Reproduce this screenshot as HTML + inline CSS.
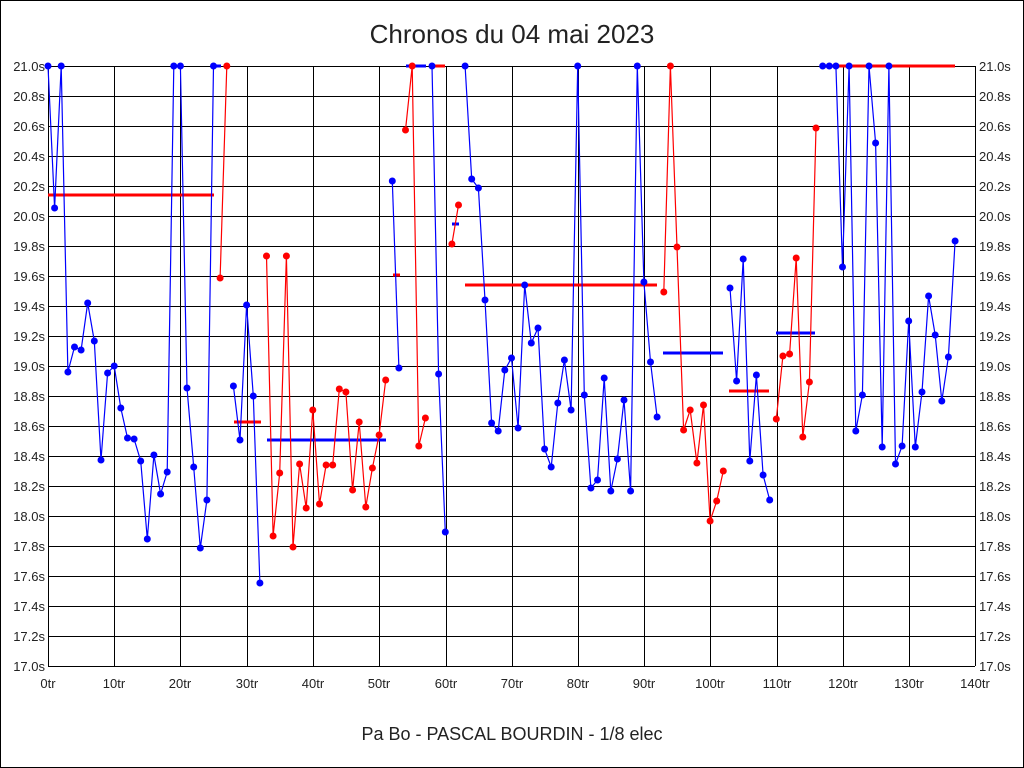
<!DOCTYPE html>
<html><head><meta charset="utf-8"><style>
html,body{margin:0;padding:0;background:#fff}
svg{display:block}
text{font-family:"Liberation Sans",sans-serif;fill:#222}
</style></head><body>
<svg width="1024" height="768" xmlns="http://www.w3.org/2000/svg">
<rect x="0.5" y="0.5" width="1023" height="767" fill="#fff" stroke="#000"/>
<text x="512" y="43" font-size="26" text-anchor="middle" fill="#000">Chronos du 04 mai 2023</text>
<text x="512" y="740" font-size="18" text-anchor="middle" fill="#000">Pa Bo - PASCAL BOURDIN - 1/8 elec</text>
<g stroke="#000" stroke-width="1">
<path d="M48 66.5H975M48 96.5H975M48 126.5H975M48 156.5H975M48 186.5H975M48 216.5H975M48 246.5H975M48 276.5H975M48 306.5H975M48 336.5H975M48 366.5H975M48 396.5H975M48 426.5H975M48 456.5H975M48 486.5H975M48 516.5H975M48 546.5H975M48 576.5H975M48 606.5H975M48 636.5H975M48 666.5H975"/>
<path d="M48.5 66V666M114.5 66V666M180.5 66V666M247.5 66V666M313.5 66V666M379.5 66V666M446.5 66V666M512.5 66V666M578.5 66V666M644.5 66V666M710.5 66V666M777.5 66V666M843.5 66V666M909.5 66V666M975.5 66V666"/>
</g>
<g font-size="13" text-anchor="end">
<text x="45" y="71">21.0s</text><text x="45" y="101">20.8s</text><text x="45" y="131">20.6s</text><text x="45" y="161">20.4s</text><text x="45" y="191">20.2s</text><text x="45" y="221">20.0s</text><text x="45" y="251">19.8s</text><text x="45" y="281">19.6s</text><text x="45" y="311">19.4s</text><text x="45" y="341">19.2s</text><text x="45" y="371">19.0s</text><text x="45" y="401">18.8s</text><text x="45" y="431">18.6s</text><text x="45" y="461">18.4s</text><text x="45" y="491">18.2s</text><text x="45" y="521">18.0s</text><text x="45" y="551">17.8s</text><text x="45" y="581">17.6s</text><text x="45" y="611">17.4s</text><text x="45" y="641">17.2s</text><text x="45" y="671">17.0s</text>
</g>
<g font-size="13" text-anchor="start">
<text x="979" y="71">21.0s</text><text x="979" y="101">20.8s</text><text x="979" y="131">20.6s</text><text x="979" y="161">20.4s</text><text x="979" y="191">20.2s</text><text x="979" y="221">20.0s</text><text x="979" y="251">19.8s</text><text x="979" y="281">19.6s</text><text x="979" y="311">19.4s</text><text x="979" y="341">19.2s</text><text x="979" y="371">19.0s</text><text x="979" y="401">18.8s</text><text x="979" y="431">18.6s</text><text x="979" y="461">18.4s</text><text x="979" y="491">18.2s</text><text x="979" y="521">18.0s</text><text x="979" y="551">17.8s</text><text x="979" y="581">17.6s</text><text x="979" y="611">17.4s</text><text x="979" y="641">17.2s</text><text x="979" y="671">17.0s</text>
</g>
<g font-size="13" text-anchor="middle">
<text x="48" y="688">0tr</text><text x="114" y="688">10tr</text><text x="180" y="688">20tr</text><text x="247" y="688">30tr</text><text x="313" y="688">40tr</text><text x="379" y="688">50tr</text><text x="446" y="688">60tr</text><text x="512" y="688">70tr</text><text x="578" y="688">80tr</text><text x="644" y="688">90tr</text><text x="710" y="688">100tr</text><text x="777" y="688">110tr</text><text x="843" y="688">120tr</text><text x="909" y="688">130tr</text><text x="975" y="688">140tr</text>
</g>
<!-- mean lines -->
<g stroke-width="3">
<path stroke="#f00" d="M48 195H214M234 422H261M465 285H657M729 391H769M822 66H955M432 66H445M393 275H400"/>
<path stroke="#00f" d="M267 440H386M663 353H723M776 333H815M406 66H426M214 66H221M452 224H459"/>
</g>
<g fill="none" stroke-width="1.2">
<polyline stroke="#00f" points="48,66 54.6,208 61.2,66 67.9,372 74.5,347 81.1,350 87.7,303 94.3,341 101,460 107.6,373 114.2,366 120.8,408 127.5,438 134.1,439 140.7,461 147.3,539 153.9,455 160.6,494 167.2,472 173.8,66 180.4,66 187,388 193.7,467 200.3,548 206.9,500 213.5,66"/>
<polyline stroke="#f00" points="220.1,278 226.8,66"/>
<polyline stroke="#00f" points="233.4,386 240,440 246.6,305 253.3,396 259.9,583"/>
<polyline stroke="#f00" points="266.5,256 273.1,536 279.7,473 286.4,256 293,547 299.6,464 306.2,508 312.8,410 319.5,504 326.1,465 332.7,465 339.3,389 345.9,392 352.6,490 359.2,422 365.8,507 372.4,468 379.1,435 385.7,380"/>
<polyline stroke="#00f" points="392.3,181 398.9,368"/>
<polyline stroke="#f00" points="405.5,130 412.2,66 418.8,446 425.4,418"/>
<polyline stroke="#00f" points="432,66 438.6,374 445.3,532"/>
<polyline stroke="#f00" points="451.9,244 458.5,205"/>
<polyline stroke="#00f" points="465.1,66 471.7,179 478.4,188 485,300 491.6,423 498.2,431 504.8,370 511.5,358 518.1,428 524.7,285 531.3,343 538,328 544.6,449 551.2,467 557.8,403 564.4,360 571.1,410 577.7,66 584.3,395 590.9,488 597.5,480 604.2,378 610.8,491 617.4,459 624,400 630.6,491 637.3,66 643.9,282 650.5,362 657.1,417"/>
<polyline stroke="#f00" points="663.8,292 670.4,66 677,247 683.6,430 690.2,410 696.9,463 703.5,405 710.1,521 716.7,501 723.3,471"/>
<polyline stroke="#00f" points="730,288 736.6,381 743.2,259 749.8,461 756.4,375 763.1,475 769.7,500"/>
<polyline stroke="#f00" points="776.3,419 782.9,356 789.6,354 796.2,258 802.8,437 809.4,382 816,128"/>
<polyline stroke="#00f" points="822.7,66 829.3,66 835.9,66 842.5,267 849.1,66 855.8,431 862.4,395 869,66 875.6,143 882.2,447 888.9,66 895.5,464 902.1,446 908.7,321 915.3,447 922,392 928.6,296 935.2,335 941.8,401 948.4,357 955.1,241"/>
</g>
<g fill="#00f">
<circle cx="48" cy="66" r="3.5"/><circle cx="54.6" cy="208" r="3.5"/><circle cx="61.2" cy="66" r="3.5"/><circle cx="67.9" cy="372" r="3.5"/><circle cx="74.5" cy="347" r="3.5"/><circle cx="81.1" cy="350" r="3.5"/><circle cx="87.7" cy="303" r="3.5"/><circle cx="94.3" cy="341" r="3.5"/><circle cx="101" cy="460" r="3.5"/><circle cx="107.6" cy="373" r="3.5"/><circle cx="114.2" cy="366" r="3.5"/><circle cx="120.8" cy="408" r="3.5"/><circle cx="127.5" cy="438" r="3.5"/><circle cx="134.1" cy="439" r="3.5"/><circle cx="140.7" cy="461" r="3.5"/><circle cx="147.3" cy="539" r="3.5"/><circle cx="153.9" cy="455" r="3.5"/><circle cx="160.6" cy="494" r="3.5"/><circle cx="167.2" cy="472" r="3.5"/><circle cx="173.8" cy="66" r="3.5"/><circle cx="180.4" cy="66" r="3.5"/><circle cx="187" cy="388" r="3.5"/><circle cx="193.7" cy="467" r="3.5"/><circle cx="200.3" cy="548" r="3.5"/><circle cx="206.9" cy="500" r="3.5"/><circle cx="213.5" cy="66" r="3.5"/>
<circle cx="233.4" cy="386" r="3.5"/><circle cx="240" cy="440" r="3.5"/><circle cx="246.6" cy="305" r="3.5"/><circle cx="253.3" cy="396" r="3.5"/><circle cx="259.9" cy="583" r="3.5"/>
<circle cx="392.3" cy="181" r="3.5"/><circle cx="398.9" cy="368" r="3.5"/>
<circle cx="432" cy="66" r="3.5"/><circle cx="438.6" cy="374" r="3.5"/><circle cx="445.3" cy="532" r="3.5"/>
<circle cx="465.1" cy="66" r="3.5"/><circle cx="471.7" cy="179" r="3.5"/><circle cx="478.4" cy="188" r="3.5"/><circle cx="485" cy="300" r="3.5"/><circle cx="491.6" cy="423" r="3.5"/><circle cx="498.2" cy="431" r="3.5"/><circle cx="504.8" cy="370" r="3.5"/><circle cx="511.5" cy="358" r="3.5"/><circle cx="518.1" cy="428" r="3.5"/><circle cx="524.7" cy="285" r="3.5"/><circle cx="531.3" cy="343" r="3.5"/><circle cx="538" cy="328" r="3.5"/><circle cx="544.6" cy="449" r="3.5"/><circle cx="551.2" cy="467" r="3.5"/><circle cx="557.8" cy="403" r="3.5"/><circle cx="564.4" cy="360" r="3.5"/><circle cx="571.1" cy="410" r="3.5"/><circle cx="577.7" cy="66" r="3.5"/><circle cx="584.3" cy="395" r="3.5"/><circle cx="590.9" cy="488" r="3.5"/><circle cx="597.5" cy="480" r="3.5"/><circle cx="604.2" cy="378" r="3.5"/><circle cx="610.8" cy="491" r="3.5"/><circle cx="617.4" cy="459" r="3.5"/><circle cx="624" cy="400" r="3.5"/><circle cx="630.6" cy="491" r="3.5"/><circle cx="637.3" cy="66" r="3.5"/><circle cx="643.9" cy="282" r="3.5"/><circle cx="650.5" cy="362" r="3.5"/><circle cx="657.1" cy="417" r="3.5"/>
<circle cx="730" cy="288" r="3.5"/><circle cx="736.6" cy="381" r="3.5"/><circle cx="743.2" cy="259" r="3.5"/><circle cx="749.8" cy="461" r="3.5"/><circle cx="756.4" cy="375" r="3.5"/><circle cx="763.1" cy="475" r="3.5"/><circle cx="769.7" cy="500" r="3.5"/>
<circle cx="822.7" cy="66" r="3.5"/><circle cx="829.3" cy="66" r="3.5"/><circle cx="835.9" cy="66" r="3.5"/><circle cx="842.5" cy="267" r="3.5"/><circle cx="849.1" cy="66" r="3.5"/><circle cx="855.8" cy="431" r="3.5"/><circle cx="862.4" cy="395" r="3.5"/><circle cx="869" cy="66" r="3.5"/><circle cx="875.6" cy="143" r="3.5"/><circle cx="882.2" cy="447" r="3.5"/><circle cx="888.9" cy="66" r="3.5"/><circle cx="895.5" cy="464" r="3.5"/><circle cx="902.1" cy="446" r="3.5"/><circle cx="908.7" cy="321" r="3.5"/><circle cx="915.3" cy="447" r="3.5"/><circle cx="922" cy="392" r="3.5"/><circle cx="928.6" cy="296" r="3.5"/><circle cx="935.2" cy="335" r="3.5"/><circle cx="941.8" cy="401" r="3.5"/><circle cx="948.4" cy="357" r="3.5"/><circle cx="955.1" cy="241" r="3.5"/>
</g>
<g fill="#f00">
<circle cx="220.1" cy="278" r="3.5"/><circle cx="226.8" cy="66" r="3.5"/>
<circle cx="266.5" cy="256" r="3.5"/><circle cx="273.1" cy="536" r="3.5"/><circle cx="279.7" cy="473" r="3.5"/><circle cx="286.4" cy="256" r="3.5"/><circle cx="293" cy="547" r="3.5"/><circle cx="299.6" cy="464" r="3.5"/><circle cx="306.2" cy="508" r="3.5"/><circle cx="312.8" cy="410" r="3.5"/><circle cx="319.5" cy="504" r="3.5"/><circle cx="326.1" cy="465" r="3.5"/><circle cx="332.7" cy="465" r="3.5"/><circle cx="339.3" cy="389" r="3.5"/><circle cx="345.9" cy="392" r="3.5"/><circle cx="352.6" cy="490" r="3.5"/><circle cx="359.2" cy="422" r="3.5"/><circle cx="365.8" cy="507" r="3.5"/><circle cx="372.4" cy="468" r="3.5"/><circle cx="379.1" cy="435" r="3.5"/><circle cx="385.7" cy="380" r="3.5"/>
<circle cx="405.5" cy="130" r="3.5"/><circle cx="412.2" cy="66" r="3.5"/><circle cx="418.8" cy="446" r="3.5"/><circle cx="425.4" cy="418" r="3.5"/>
<circle cx="451.9" cy="244" r="3.5"/><circle cx="458.5" cy="205" r="3.5"/>
<circle cx="663.8" cy="292" r="3.5"/><circle cx="670.4" cy="66" r="3.5"/><circle cx="677" cy="247" r="3.5"/><circle cx="683.6" cy="430" r="3.5"/><circle cx="690.2" cy="410" r="3.5"/><circle cx="696.9" cy="463" r="3.5"/><circle cx="703.5" cy="405" r="3.5"/><circle cx="710.1" cy="521" r="3.5"/><circle cx="716.7" cy="501" r="3.5"/><circle cx="723.3" cy="471" r="3.5"/>
<circle cx="776.3" cy="419" r="3.5"/><circle cx="782.9" cy="356" r="3.5"/><circle cx="789.6" cy="354" r="3.5"/><circle cx="796.2" cy="258" r="3.5"/><circle cx="802.8" cy="437" r="3.5"/><circle cx="809.4" cy="382" r="3.5"/><circle cx="816" cy="128" r="3.5"/>
</g>
</svg>
</body></html>
